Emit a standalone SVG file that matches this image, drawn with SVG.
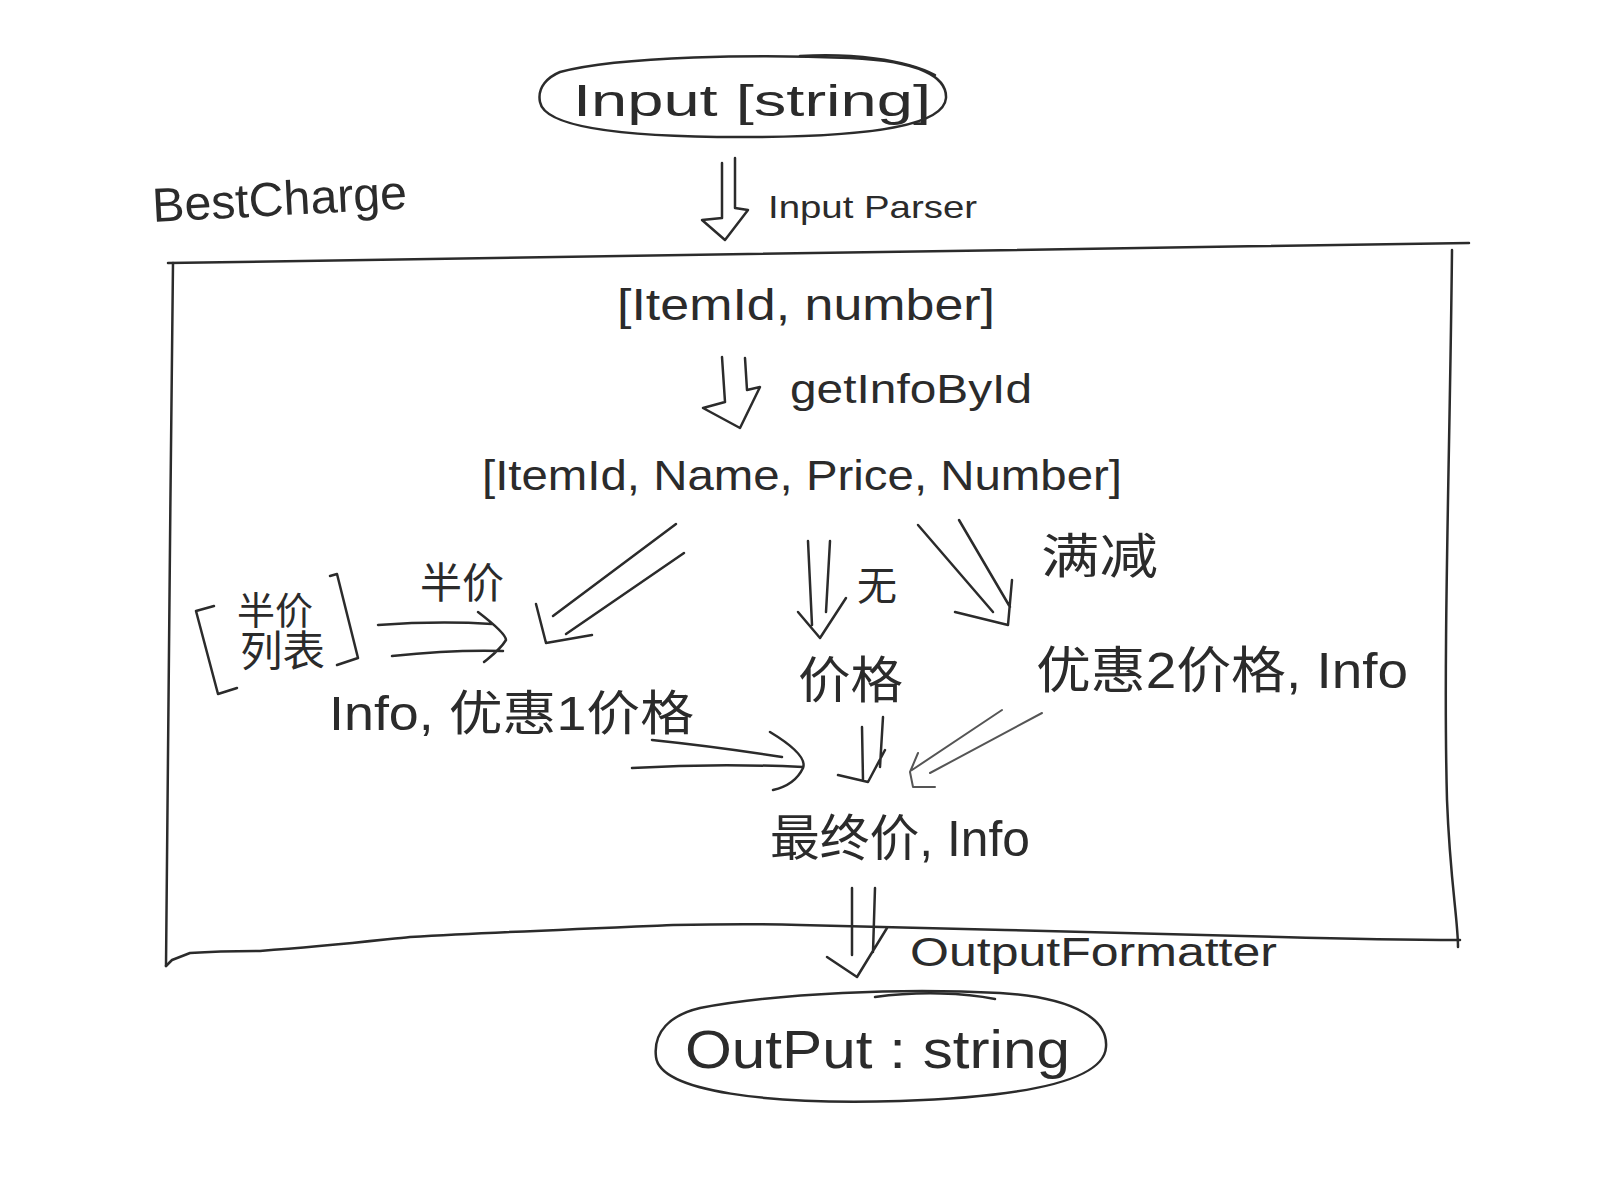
<svg xmlns="http://www.w3.org/2000/svg" width="1600" height="1200" viewBox="0 0 1600 1200">
<style>
.t { font-family: "Liberation Sans", "Noto Sans CJK SC", sans-serif; fill: #2b2b2b; }
.s { fill: none; stroke: #2b2b2b; stroke-width: 2.5; stroke-linecap: round; stroke-linejoin: round; }
.f { fill: none; stroke: #555; stroke-width: 2; stroke-linecap: round; stroke-linejoin: round; }
</style>
<rect width="1600" height="1200" fill="#ffffff"/>

<g id="input">
  <path class="s" d="M560,72 C620,56 760,54 850,58 C920,61 947,77 946,98 C944,126 870,136 760,137 C640,138 545,130 540,102 C537,87 548,77 560,72 Z"/>
  <path class="s" d="M800,56 C850,53 905,59 935,75"/>
  <text class="t" x="573" y="116" font-size="44" textLength="358" lengthAdjust="spacingAndGlyphs">Input [string]</text>
</g>

<g id="bestcharge">
  <path class="s" d="M168,263 C500,258 1000,250 1469,243"/>
  <path class="s" d="M173,263 C170,500 168,800 166,966"/>
  <path class="s" d="M166,966 L172,960 L190,953 C220,951 250,951 260,951 C330,946 380,940 410,937 C500,932 600,928 673,925 C720,924 770,924 800,925 C950,928 1150,934 1280,937 C1350,939 1420,940 1460,940"/>
  <path class="s" d="M1452,250 C1450,450 1443,650 1447,800 C1450,880 1458,920 1458,947"/>
  <text class="t" x="153" y="222" font-size="48" textLength="255" lengthAdjust="spacingAndGlyphs" transform="rotate(-3 153 222)">BestCharge</text>
</g>

<g id="items">
  <text class="t" x="617" y="320" font-size="44" textLength="378" lengthAdjust="spacingAndGlyphs">[ItemId, number]</text>
</g>

<g id="items-info">
  <text class="t" x="482" y="490" font-size="42" textLength="640" lengthAdjust="spacingAndGlyphs">[ItemId, Name, Price, Number]</text>
</g>

<g id="half-price-list">
  <path class="s" d="M214,606 L196,611 L218,694 L237,688"/>
  <path class="s" d="M330,576 L337,574 L358,658 L337,665"/>
  <text class="t" x="237" y="624" font-size="38">半价</text>
  <text class="t" x="240" y="666" font-size="42" textLength="85" lengthAdjust="spacingAndGlyphs">列表</text>
</g>

<g id="discount1">
  <text class="t" x="329" y="730" font-size="48" textLength="365" lengthAdjust="spacingAndGlyphs">Info, 优惠1价格</text>
</g>

<g id="price">
  <text class="t" x="798" y="698" font-size="50" textLength="105" lengthAdjust="spacingAndGlyphs">价格</text>
</g>

<g id="discount2">
  <text class="t" x="1036" y="688" font-size="50" textLength="372" lengthAdjust="spacingAndGlyphs">优惠2价格, Info</text>
</g>

<g id="final">
  <text class="t" x="770" y="856" font-size="50" textLength="260" lengthAdjust="spacingAndGlyphs">最终价, Info</text>
</g>

<g id="output">
  <path class="s" d="M700,1008 C780,993 900,988 1000,993 C1080,998 1108,1022 1106,1047 C1104,1082 1020,1097 900,1101 C770,1105 660,1092 656,1057 C653,1032 670,1015 700,1008 Z"/>
  <path class="s" d="M875,997 C920,991 965,993 995,999"/>
  <text class="t" x="685" y="1068" font-size="54" textLength="385" lengthAdjust="spacingAndGlyphs">OutPut : string</text>
</g>

<g id="connectors">
  <!-- Input Parser -->
  <path class="s" d="M722,163 L722,218 M735,158 L735,208 M722,218 L702,220 L725,240 L748,210 L735,208"/>
  <text class="t" x="768" y="218" font-size="32" textLength="209" lengthAdjust="spacingAndGlyphs">Input Parser</text>
  <!-- getInfoById -->
  <path class="s" d="M722,357 L725,402 M745,358 L747,390 M725,402 L703,408 L740,428 L760,387 L747,390"/>
  <text class="t" x="790" y="403" font-size="40" textLength="242" lengthAdjust="spacingAndGlyphs">getInfoById</text>
  <!-- diagonal to discount1 -->
  <path class="s" d="M676,524 L553,616 M684,553 L566,634 M536,604 L546,643 L592,635"/>
  <!-- half price arrow -->
  <path class="s" d="M378,625 C420,622 460,622 492,624 M392,656 C430,652 470,650 503,651 M478,612 C495,625 506,635 506,640 C500,650 490,657 484,662"/>
  <text class="t" x="420" y="598" font-size="42">半价</text>
  <!-- none -->
  <path class="s" d="M808,541 L812,625 M830,541 L826,612 M798,612 L820,638 L846,598"/>
  <text class="t" x="857" y="600" font-size="40">无</text>
  <!-- full reduction -->
  <path class="s" d="M918,525 L993,612 M959,520 L1010,607 M955,612 L1008,625 L1012,580"/>
  <text class="t" x="1041" y="573" font-size="48" textLength="117" lengthAdjust="spacingAndGlyphs">满减</text>
  <!-- into final -->
  <path class="s" d="M652,740 C700,745 750,752 782,757 M632,768 C700,764 760,765 803,767 M770,732 Q808,755 803,768 Q795,785 773,790"/>
  <path class="s" d="M862,727 L863,780 M883,717 L880,767 M838,775 L868,782 L885,750"/>
  <path class="f" d="M1002,710 L912,770 M1042,713 L930,773 M918,753 L910,772 L913,787 L935,787"/>
  <!-- OutputFormatter -->
  <path class="s" d="M852,888 L852,955 M875,888 L873,952 M827,957 L857,977 L887,928"/>
  <text class="t" x="910" y="966" font-size="40" textLength="367" lengthAdjust="spacingAndGlyphs">OutputFormatter</text>
</g>
</svg>
